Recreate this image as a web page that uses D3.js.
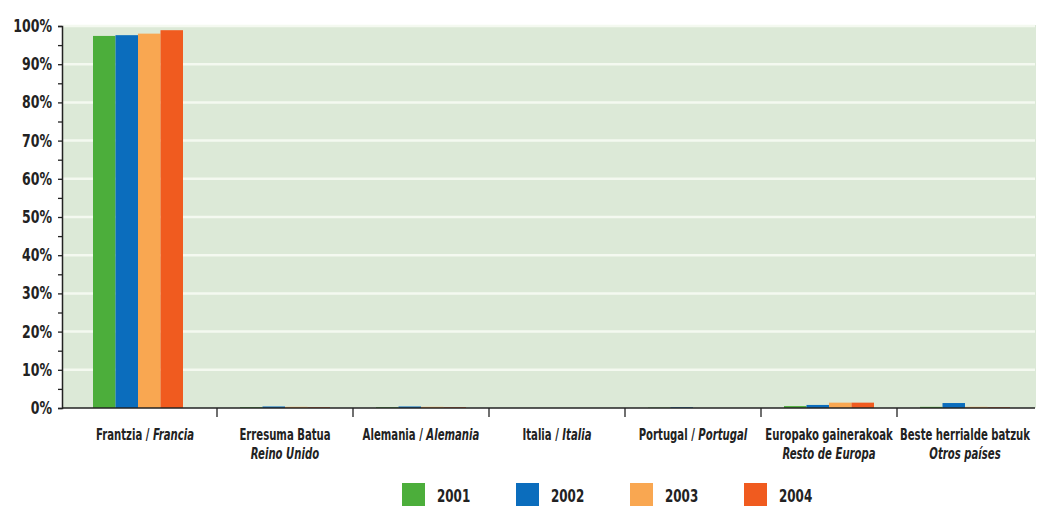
<!DOCTYPE html>
<html>
<head>
<meta charset="utf-8">
<script src="https://cdn.jsdelivr.net/npm/d3@7"></script>
<style>
  body { margin: 0; background: #fff; }
  text { font-family: "DejaVu Sans Condensed", "Liberation Sans Narrow", sans-serif; }
</style>
</head>
<body>
<div id="chart"></div>
<script>
// categories (euskara / castellano)
const catsEu = ["Frantzia", "Erresuma Batua", "Alemania", "Italia", "Portugal", "Europako gainerakoak", "Beste herrialde batzuk"]
const catsEs = ["Francia", "Reino Unido", "Alemania", "Italia", "Portugal", "Resto de Europa", "Otros países"]
// labels on one line "eu / es" or two lines
const oneLine = [true, false, true, true, true, false, false]
const years = ["2001", "2002", "2003", "2004"]
const colors = ["#4cae3b", "#0b6dbd", "#f9a751", "#f05b1f"]

// share in %
const v2001 = [97.4, 0.2, 0.2, 0.0, 0.1, 0.5, 0.3]
const v2002 = [97.6, 0.4, 0.4, 0.0, 0.2, 0.8, 1.3]
const v2003 = [98.0, 0.3, 0.3, 0.0, 0.0, 1.4, 0.3]
const v2004 = [98.9, 0.2, 0.2, 0.0, 0.0, 1.4, 0.2]
const yTicks = [0, 10, 20, 30, 40, 50, 60, 70, 80, 90, 100]

const series = [v2001, v2002, v2003, v2004]

const width = 1047, height = 508
const svg = d3.select("#chart").append("svg")
    .attr("width", width)
    .attr("height", height)

const plotLeft = 62, plotRight = 1035, plotTop = 26, plotBottom = 408

const y = d3.scaleLinear().domain([0, 100]).range([plotBottom, plotTop])
const x0 = d3.scaleBand().domain(catsEu).range([81, 1033]).padding(0)
const x1 = d3.scaleBand().domain(years).range([23, x0.bandwidth() - 23]).padding(0)

// background
svg.append("rect")
    .attr("x", plotLeft + 1)
    .attr("y", plotTop - 1)
    .attr("width", plotRight - plotLeft)
    .attr("height", plotBottom - plotTop + 1)
    .attr("fill", "#dce9d7")

// gridlines
svg.append("g")
  .selectAll("line")
  .data(yTicks.filter(d => d > 0))
  .join("line")
    .attr("x1", plotLeft + 1)
    .attr("x2", plotRight)
    .attr("y1", d => y(d))
    .attr("y2", d => y(d))
    .attr("stroke", "#f4f9f0")
    .attr("stroke-width", 2.5)

// bars
const groups = svg.append("g")
  .selectAll("g")
  .data(catsEu)
  .join("g")
    .attr("transform", (d, i) => `translate(${x0(d) - (i === 0 ? 11 : 0)},0)`)

groups.selectAll("rect")
  .data((d, i) => years.map((yr, j) => ({yr: yr, j: j, v: series[j][i]})))
  .join("rect")
    .attr("x", d => x1(d.yr))
    .attr("width", x1.bandwidth())
    .attr("y", d => y(d.v))
    .attr("height", d => plotBottom - y(d.v))
    .attr("fill", d => colors[d.j])

// y axis
const yAxis = d3.axisLeft(y)
    .tickValues(d3.range(0, 101, 5))
    .tickSize(4)
    .tickFormat("")
svg.append("g")
    .attr("transform", `translate(${plotLeft},0)`)
    .call(yAxis)
    .call(g => g.select(".domain").attr("stroke", "#222").attr("stroke-width", 1.5))
    .call(g => g.selectAll(".tick line").attr("stroke", "#222").attr("stroke-width", 1.3))

svg.append("g")
  .selectAll("text")
  .data(yTicks)
  .join("text")
    .attr("transform", d => `translate(52,${y(d) + 6}) scale(0.82,1)`)
    .attr("text-anchor", "end")
    .style("font-size", "17px")
    .style("font-weight", "bold")
    .style("fill", "#222")
    .text(d => d + "%")

// x axis
svg.append("line")
    .attr("x1", plotLeft)
    .attr("x2", plotRight)
    .attr("y1", plotBottom)
    .attr("y2", plotBottom)
    .attr("stroke", "#222")
    .attr("stroke-width", 1.5)

svg.append("g")
  .selectAll("line")
  .data(catsEu.slice(1))
  .join("line")
    .attr("x1", d => x0(d))
    .attr("x2", d => x0(d))
    .attr("y1", plotBottom)
    .attr("y2", plotBottom + 9)
    .attr("stroke", "#222")
    .attr("stroke-width", 1.3)

// category labels
const labels = svg.append("g")
  .selectAll("text")
  .data(catsEu)
  .join("text")
    .attr("text-anchor", "middle")
    .attr("transform", (d, i) => `translate(${x0(d) + x0.bandwidth() / 2 - (i === 0 ? 4 : 0)},0) scale(0.75,1)`)
    .style("font-size", "15px")
    .style("font-weight", "bold")
    .style("fill", "#222")

labels.each(function(d, i) {
    const t = d3.select(this)
    if (oneLine[i]) {
        t.attr("x", 0).attr("y", 440)
        t.append("tspan").text(d + " / ")
        t.append("tspan").style("font-style", "italic").text(catsEs[i])
    } else {
        t.append("tspan").attr("x", 0).attr("y", 440).text(d)
        t.append("tspan").attr("x", 0).attr("y", 459).style("font-style", "italic").text(catsEs[i])
    }
})

// legend
const legend = svg.append("g")
  .selectAll("g")
  .data(years)
  .join("g")
    .attr("transform", (d, i) => `translate(${402 + i * 114},483)`)

legend.append("rect")
    .attr("width", 23)
    .attr("height", 23)
    .attr("fill", (d, i) => colors[i])

legend.append("text")
    .attr("transform", "translate(35,19) scale(0.78,1)")
    .style("font-size", "17px")
    .style("font-weight", "bold")
    .style("fill", "#222")
    .text(d => d)
</script>
</body>
</html>
